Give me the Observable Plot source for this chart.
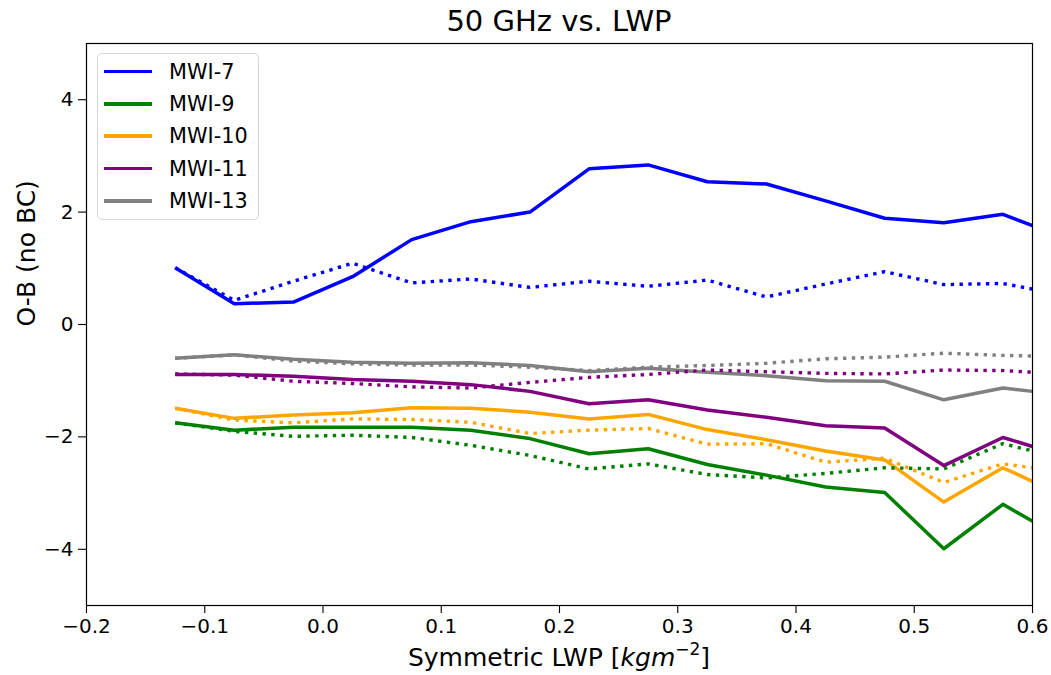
<!DOCTYPE html>
<html>
<head>
<meta charset="utf-8">
<script src="https://cdn.jsdelivr.net/npm/d3@7"></script>
<script src="https://cdn.jsdelivr.net/npm/@observablehq/plot@0.6"></script>
<style>
  body { margin: 0; background: white; font-family: "DejaVu Sans", sans-serif; }
  #wrap { position: relative; width: 1051px; height: 675px; overflow: hidden; background: white; }
  #title { position: absolute; left: 86px; width: 946px; top: 4px; font-size: 29px; line-height: 34px; text-align: center; color: black; }
  #chart { position: absolute; left: 0; top: 38px; }
  #xlabel { position: absolute; left: 86px; width: 946px; top: 643px; font-size: 25px; line-height: 30px; text-align: center; color: black; }
  #xlabel sup { font-size: 17px; line-height: 0; position: relative; top: -2px; vertical-align: super; }
  #legend { position: absolute; left: 97px; top: 53px; width: 162px; height: 167px; border: 1px solid #d6d6d6; border-radius: 5px; background: rgba(255,255,255,0.8); box-sizing: border-box; }
  .row { position: absolute; left: 0; height: 32px; width: 160px; }
  .swatch { position: absolute; left: 6px; top: 14.3px; width: 48px; height: 3.5px; }
  .lab { position: absolute; left: 71px; top: 0; font-size: 20.8px; line-height: 32px; color: black; white-space: nowrap; }
</style>
</head>
<body>
<div id="wrap">
  <div id="title">50 GHz vs. LWP</div>
  <div id="chart"></div>
  <div id="legend"></div>
  <div id="xlabel">Symmetric LWP [<i>kgm</i><sup>−2</sup>]</div>
</div>
<script>
// ---- Data ----
const lwp = [-0.125, -0.075, -0.025, 0.025, 0.075, 0.125, 0.175, 0.225, 0.275, 0.325, 0.375, 0.425, 0.475, 0.525, 0.575, 0.6];

const channels = ["MWI-7", "MWI-9", "MWI-10", "MWI-11", "MWI-13"];
const channelColors = ["#0000ff", "#008000", "#ffa500", "#800080", "#808080"];

// solid lines
const solid_mwi7  = [1.01, 0.37, 0.40, 0.85, 1.51, 1.83, 2.00, 2.77, 2.84, 2.54, 2.50, 2.20, 1.89, 1.81, 1.96, 1.76];
const solid_mwi9  = [-1.75, -1.88, -1.83, -1.83, -1.83, -1.88, -2.03, -2.30, -2.21, -2.49, -2.68, -2.89, -2.99, -3.99, -3.20, -3.50];
const solid_mwi10 = [-1.49, -1.67, -1.61, -1.57, -1.48, -1.49, -1.56, -1.68, -1.60, -1.87, -2.05, -2.25, -2.41, -3.16, -2.55, -2.79];
const solid_mwi11 = [-0.89, -0.89, -0.92, -0.98, -1.01, -1.07, -1.19, -1.41, -1.34, -1.52, -1.65, -1.80, -1.84, -2.51, -2.01, -2.17];
const solid_mwi13 = [-0.60, -0.54, -0.62, -0.67, -0.69, -0.68, -0.73, -0.84, -0.78, -0.85, -0.91, -1.00, -1.01, -1.34, -1.13, -1.19];

// dotted lines
const dotted_mwi7  = [1.01, 0.43, 0.77, 1.09, 0.74, 0.81, 0.66, 0.77, 0.68, 0.79, 0.49, 0.72, 0.94, 0.71, 0.73, 0.63];
const dotted_mwi9  = [-1.75, -1.90, -1.99, -1.97, -2.01, -2.15, -2.33, -2.57, -2.48, -2.67, -2.73, -2.65, -2.55, -2.57, -2.12, -2.25];
const dotted_mwi10 = [-1.49, -1.70, -1.75, -1.68, -1.69, -1.74, -1.94, -1.88, -1.85, -2.13, -2.12, -2.45, -2.38, -2.81, -2.48, -2.55];
const dotted_mwi11 = [-0.88, -0.90, -1.01, -1.05, -1.11, -1.13, -1.03, -0.94, -0.89, -0.81, -0.84, -0.87, -0.88, -0.81, -0.82, -0.85];
const dotted_mwi13 = [-0.60, -0.54, -0.65, -0.70, -0.72, -0.72, -0.76, -0.82, -0.76, -0.73, -0.69, -0.61, -0.58, -0.51, -0.55, -0.56];

const xTicks = [-0.2, -0.1, 0.0, 0.1, 0.2, 0.3, 0.4, 0.5, 0.6];
const yTicks = [-4, -2, 0, 2, 4];

// ---- Build tables ----
const solidSeries = [solid_mwi7, solid_mwi9, solid_mwi10, solid_mwi11, solid_mwi13];
const dottedSeries = [dotted_mwi7, dotted_mwi9, dotted_mwi10, dotted_mwi11, dotted_mwi13];
function toRows(seriesList) {
  const rows = [];
  seriesList.forEach((vals, i) => vals.forEach((v, j) => rows.push({x: lwp[j], y: v, series: channels[i]})));
  return rows;
}
const solidRows = toRows(solidSeries);
const dottedRows = toRows(dottedSeries);

const fmtX = d3.format(".1f");
const fmtY = d3.format("d");

const plot = Plot.plot({
  width: 1051,
  height: 607,
  marginTop: 5,
  marginBottom: 40,
  marginLeft: 86,
  marginRight: 19,
  style: {fontFamily: "DejaVu Sans", fontSize: "20px", color: "black", background: "white"},
  x: {domain: [-0.2, 0.6]},
  y: {domain: [-5, 5]},
  color: {domain: channels, range: channelColors},
  marks: [
    Plot.axisX({ticks: xTicks, tickFormat: fmtX, tickSize: 8, tickPadding: 5, fontSize: 20, label: null, strokeWidth: 1.1}),
    Plot.axisY({ticks: yTicks, tickFormat: fmtY, tickSize: 8, tickPadding: 5, fontSize: 20, label: null, strokeWidth: 1.1}),
    Plot.line(solidRows, {x: "x", y: "y", z: "series", stroke: "series", strokeWidth: 3.5, strokeLinejoin: "round", strokeLinecap: "butt"}),
    Plot.line(dottedRows, {x: "x", y: "y", z: "series", stroke: "series", strokeWidth: 3.4, strokeDasharray: "3.4,5.4", strokeLinecap: "butt"}),
    Plot.frame({stroke: "black", strokeWidth: 1.2}),
    Plot.text(["O-B (no BC)"], {text: d => d, frameAnchor: "left", dx: -60, dy: 2, rotate: -90, fontSize: 25, fill: "black"})
  ]
});
document.getElementById("chart").appendChild(plot);

// ---- Legend ----
const legend = document.getElementById("legend");
channels.forEach((name, i) => {
  const row = document.createElement("div");
  row.className = "row";
  row.style.top = (1.5 + i * 32.35) + "px";
  const sw = document.createElement("div");
  sw.className = "swatch";
  sw.style.background = channelColors[i];
  const lab = document.createElement("div");
  lab.className = "lab";
  lab.textContent = name;
  row.appendChild(sw);
  row.appendChild(lab);
  legend.appendChild(row);
});
</script>
</body>
</html>
